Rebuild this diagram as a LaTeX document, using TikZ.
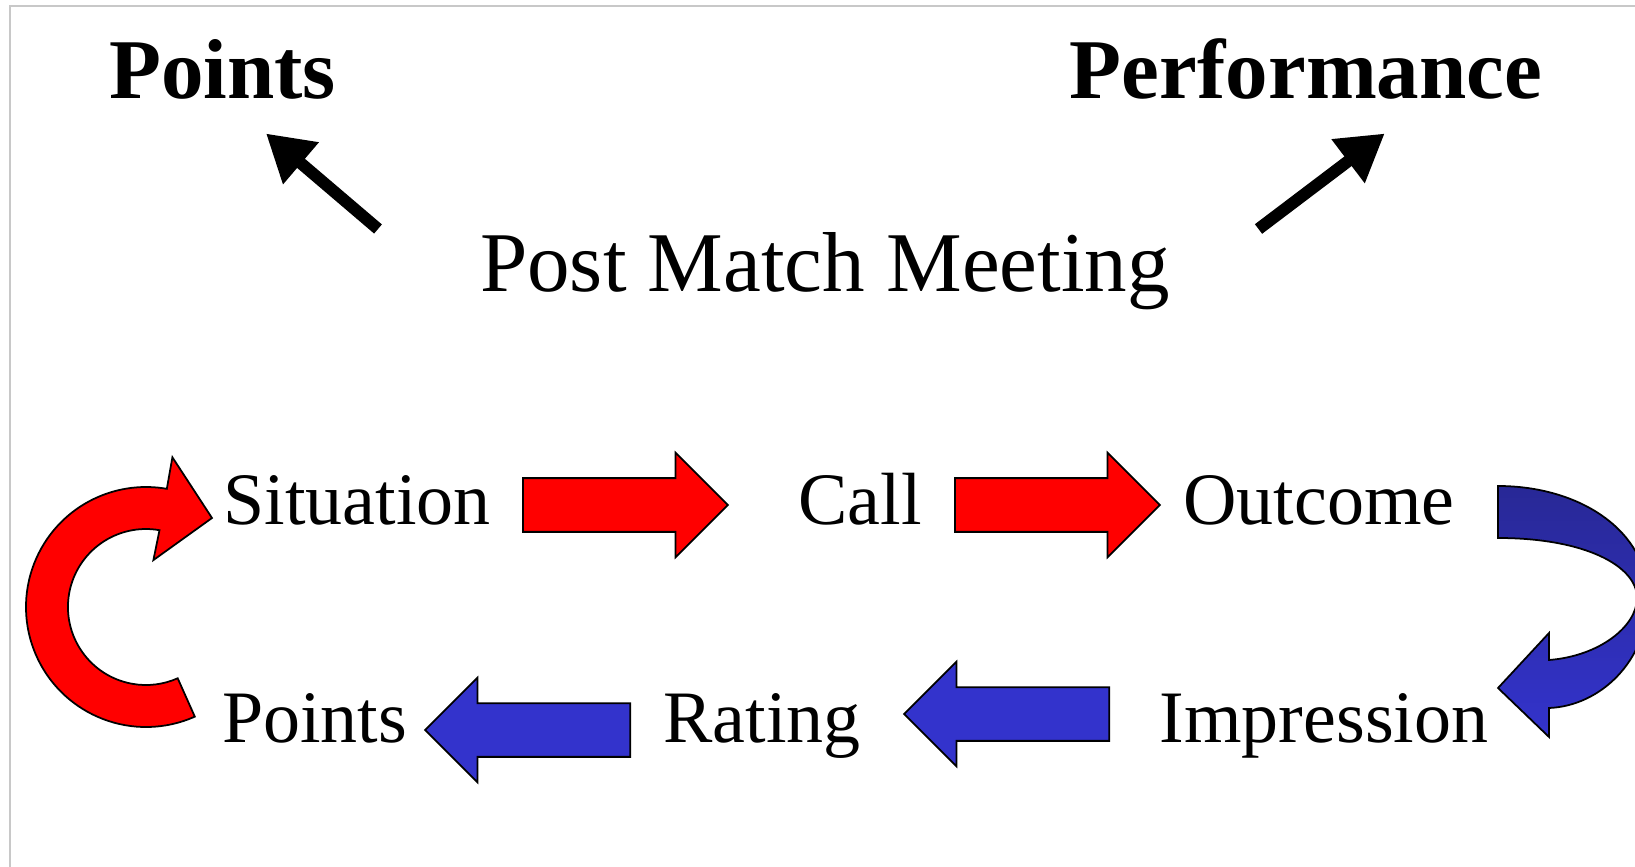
\documentclass[tikz,border=0pt]{standalone}
\usepackage{fontspec}
\setmainfont{Liberation Serif}
\usetikzlibrary{shapes.arrows,arrows.meta}

\definecolor{slateblue}{RGB}{51,51,204}
\definecolor{darkslate}{RGB}{40,40,150}
\definecolor{framegray}{RGB}{200,200,200}

\begin{document}
\begin{tikzpicture}[x=0.02cm,y=0.02cm,
    big/.style={font=\fontsize{48.4}{58}\selectfont, inner sep=0, anchor=base},
    word/.style={font=\fontsize{42.1}{50}\selectfont, inner sep=0, anchor=base},
    redblock/.style={single arrow, draw=black, line width=1pt, fill=red,
      inner xsep=0, inner ysep=0.52cm, minimum height=4.1cm,
      single arrow head extend=0.51cm, anchor=tail},
    blueblock/.style={redblock, fill=slateblue, shape border rotate=180},
    pointer/.style={line width=0.24cm, -{Triangle[length=0.92cm,width=1.04cm]}}]
    \useasboundingbox (0,0) rectangle (1635,866);
    \draw[framegray, line width=1.2pt] (10,-20) rectangle (1700,860);

    \node[big] (pts) at (222.5,767) {\textbf{Points}};
    \node[big] (perf) at (1306,767) {\textbf{Performance}};
    \node[big] (meet) at (825,574) {Post Match Meeting};
    \coordinate (tipL) at (266,732.5);
    \coordinate (tailL) at (378,637);
    \coordinate (tipR) at (1384.7,732.5);
    \coordinate (tailR) at (1258.5,637);
    \draw[pointer] (tailL) -- (tipL);
    \draw[pointer] (tailR) -- (tipR);

    \node[word] (sit) at (357,342) {Situation};
    \node[word] (call) at (860,342) {Call};
    \node[word] (out) at (1319,342) {Outcome};
    \node[word] (pnt) at (314.5,124) {Points};
    \node[word] (rate) at (762,124) {Rating};
    \node[word] (imp) at (1324,124) {Impression};

    \node[redblock] (sitcall) at (522,361) {};
    \node[redblock] (callout) at (954,361) {};
    \node[blueblock] (ratepnt) at (631,136) {};
    \node[blueblock] (imprate) at (1110,152) {};

    % loop back from Points to Situation
    \coordinate (loop) at (146,259);
    \draw[fill=red, line width=1pt] (loop) ++(-66:120)
      arc[start angle=-66, end angle=-280, radius=120]
      -- (172.4,408.7) -- (212,348) -- (153.4,305.9) -- (159.5,335.8)
      arc[start angle=80, end angle=294, radius=78] -- cycle;
    % turn from Outcome down to Impression
    \draw[top color=darkslate, bottom color=slateblue, line width=1pt]
      (1498,380) .. controls (1580,380) and (1648,335) .. (1648,268)
      .. controls (1648,205) and (1600,160) .. (1549,158)
      -- (1549,129) -- (1498,178) -- (1549,233) -- (1549,206)
      .. controls (1600,210) and (1637,240) .. (1637,268)
      .. controls (1637,300) and (1585,328) .. (1498,328) -- cycle;
\end{tikzpicture}
\end{document}
